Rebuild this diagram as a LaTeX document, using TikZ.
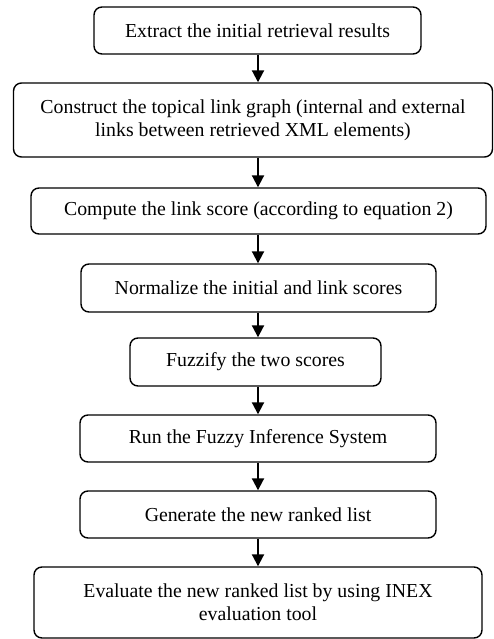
\documentclass[tikz,border=0pt]{standalone}
\usepackage{fontspec}
\setmainfont{Liberation Serif}
\usetikzlibrary{arrows.meta}
\tikzset{
    stepbox/.style={draw, line width=1.4pt, rounded corners=8pt, align=center,
        inner sep=0pt, font=\fontsize{19.8}{23}\selectfont},
    flow/.style={line width=2pt, -{Triangle[width=12pt,length=12pt]}}
}
\begin{document}
\begin{tikzpicture}[x=1pt, y=-1pt]
    \useasboundingbox (0, 0) rectangle (494, 639);
    \coordinate (axis) at (258, 0);
    \node[stepbox, minimum width=327pt, minimum height=47pt] (b1) at (257.5, 30.5)
        {Extract the initial retrieval results};
    \node[stepbox, minimum width=479pt, minimum height=74pt] (b2) at (253, 120)
        {Construct the topical link graph (internal and external\\links between retrieved XML elements)};
    \node[stepbox, minimum width=455pt, minimum height=46pt] (b3) at (258.5, 211)
        {Compute the link score (according to equation 2)};
    \node[stepbox, minimum width=355pt, minimum height=48pt] (b4) at (258.5, 288)
        {Normalize the initial and link scores};
    \node[stepbox, minimum width=251pt, minimum height=48pt] (b5) at (255.5, 362)
        {Fuzzify the two scores};
    \node[stepbox, minimum width=356pt, minimum height=47pt] (b6) at (258, 438.5)
        {Run the Fuzzy Inference System};
    \node[stepbox, minimum width=356pt, minimum height=47pt] (b7) at (258, 514.5)
        {Generate the new ranked list};
    \node[stepbox, minimum width=448pt, minimum height=71pt] (b8) at (258, 602.5)
        {Evaluate the new ranked list by using INEX\\evaluation tool};
    \foreach \a/\b in {b1/b2, b2/b3, b3/b4, b4/b5, b5/b6, b6/b7, b7/b8}
        \draw[flow] (axis |- \a.south) -- (axis |- \b.north);
\end{tikzpicture}
\end{document}
